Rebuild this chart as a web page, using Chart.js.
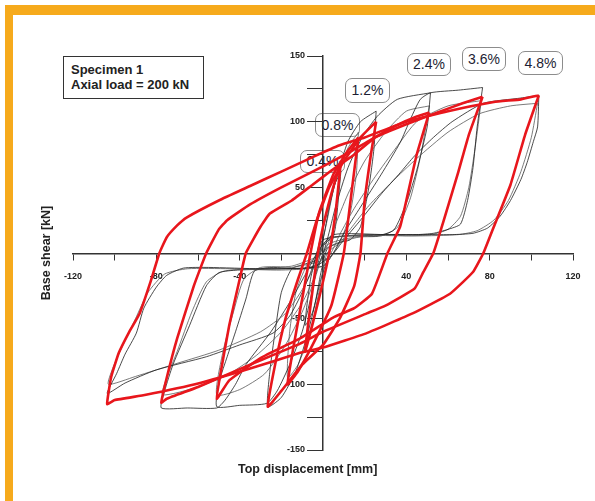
<!DOCTYPE html>
<html lang="en">
<head>
<meta charset="UTF-8">
<title>Specimen 1 hysteresis</title>
<script src="https://cdn.jsdelivr.net/npm/chart.js"></script>
<style>
    body { margin: 0; background: #fff; font-family: "Liberation Sans", Arial, sans-serif; }
    #wrap { position: relative; width: 595px; height: 501px; overflow: hidden; background: #fff; }
    .bar { position: absolute; background: #f6aa1c; }
    .drift {
        position: absolute; box-sizing: border-box; border: 1px solid #8c8c8c; border-radius: 7px;
        background: #fff; font-size: 14px; color: #1d1d33; text-align: center;
    }
    #specimen {
        position: absolute; left: 63px; top: 56px; width: 141px; height: 43px; box-sizing: border-box;
        border: 1px solid #333; background: #fff; padding: 5px 0 0 7px;
        font-size: 13px; font-weight: bold; line-height: 15px; color: #222;
    }
    .title { position: absolute; font-size: 12.5px; font-weight: bold; color: #222; white-space: nowrap; }
    #chart { position: absolute; left: 0; top: 0; }
</style>
</head>
<body>
<div id="wrap">
    <div class="bar" style="left:5px; top:5px; width:590px; height:10px;"></div>
    <div class="bar" style="left:5px; top:5px; width:8px; height:496px;"></div>

    <div class="drift" style="left:300px; top:150px; width:45px; height:23px; line-height:21px;">0.4%</div>
    <div class="drift" style="left:315px; top:113px; width:45px; height:24px; line-height:22px;">0.8%</div>
    <div class="drift" style="left:345px; top:78px; width:45px; height:25px; line-height:23px;">1.2%</div>
    <div class="drift" style="left:407px; top:53px; width:44px; height:23px; line-height:21px;">2.4%</div>
    <div class="drift" style="left:462px; top:47px; width:44px; height:24px; line-height:22px;">3.6%</div>
    <div class="drift" style="left:518px; top:51px; width:45px; height:24px; line-height:22px;">4.8%</div>

    <canvas id="chart" width="595" height="501"></canvas>

    <div id="specimen">Specimen 1<br>Axial load = 200 kN</div>
    <div class="title" style="left:238px; top:462px;">Top displacement [mm]</div>
    <div class="title" style="left:-6px; top:246px; transform: rotate(-90deg); transform-origin: 50% 50%; width:104px; text-align:center;">Base shear [kN]</div>
</div>

<script>
    // test curves (black) - displacement [mm] / base shear [kN]
    const test48aDisp = [103.6, 95, 77, 62, 53, 44, 37, 28, 18, 10, 4, -5, -30, -55, -67, -75, -80, -86, -89.6, -95, -99, -103.6, -95, -80, -56, -40, -24, -16, -10, -6, -2, 5, 30, 50, 62, 72, 79, 85, 90, 95, 98, 101, 103, 103.6];
    const test48aShear = [120, 118, 114, 100, 88, 74, 61, 45, 25, 10, -2, -11, -12, -11, -11.5, -17, -26, -42, -61, -77, -91.6, -107, -99, -89, -79, -70, -61, -48, -30, -15, 2, 14, 14, 14, 14, 15, 19, 28, 40, 56, 69, 85, 96, 120];
    const test48bDisp = [103, 90, 75, 60, 45, 33, 22, 14, 7, 0, -20, -45, -65, -76, -84, -90, -96, -101, -103, -90, -70, -50, -30, -18, -10, -4, 2, 20, 45, 65, 74, 82, 89, 95, 100, 103];
    const test48bShear = [114, 112, 106, 92, 72, 54, 36, 20, 5, -10, -13, -12, -12, -16, -30, -50, -70, -88, -100, -94, -84, -74, -60, -46, -28, -10, 10, 14, 13, 14, 17, 25, 40, 62, 88, 114];
    const test36aDisp = [76.6, 65, 51.6, 46.7, 42, 37, 28, 18, 10, 5, 0, -20, -41, -50, -56, -64, -72, -76, -77.6, -65, -51, -47, -42, -37, -25, -15, -8, -3, 0, 10, 30, 45, 53, 60, 66, 69.4, 72, 74, 76.6];
    const test36aShear = [126, 124, 122, 117, 102, 84, 60, 35, 15, 0, -10, -12, -13, -15, -25, -55, -85, -105, -118, -118, -118, -112, -100, -85, -60, -35, -15, 0, 10, 13, 14, 14, 15, 18, 22, 40, 65, 96, 126];
    const test36bDisp = [76, 60, 45, 35, 25, 15, 8, 2, -15, -35, -48, -56, -63, -70, -75, -77, -60, -45, -32, -20, -10, -4, 2, 20, 40, 52, 60, 66, 70, 73, 76];
    const test36bShear = [116, 112, 100, 80, 58, 34, 14, -4, -11, -12, -14, -22, -45, -75, -95, -108, -102, -92, -78, -60, -38, -18, 4, 13, 13, 14, 18, 28, 50, 80, 116];
    const test24aDisp = [51.6, 35.7, 26, 19, 12, 6, 2, -2, -10, -25, -33, -37, -42, -46, -49.6, -51, -40, -27, -22, -16, -10, -6, -3, 0, 5, 20, 26, 34, 40.5, 45, 50, 51.6];
    const test24aShear = [122, 117, 104, 88.5, 65, 35, 10, -8, -12, -11, -14, -35, -60, -79, -97, -117, -116, -114.5, -105, -85, -60, -35, -12, 5, 12, 13, 13, 17.5, 40, 63, 96, 122];
    const test24bDisp = [51, 40, 30, 20, 12, 5, 0, -15, -30, -38, -43, -48, -51, -40, -28, -18, -10, -4, 2, 15, 28, 36, 42, 47, 51];
    const test24bShear = [112, 108, 92, 70, 45, 18, 0, -10, -11, -20, -45, -75, -108, -104, -92, -70, -45, -20, 6, 12, 13, 20, 42, 75, 112];
    const test12Disp = [25.5, 18, 12, 7, 3, 0, -3, -10, -15, -20, -23, -25.5, -26.5, -20, -13, -8, -4, -1, 2, 8, 13, 18, 22, 24.5, 25.5];
    const test12Shear = [108, 100, 85, 60, 35, 10, -5, -9, -12, -30, -60, -90, -117, -110, -90, -65, -40, -15, 3, 8, 10, 20, 50, 80, 108];
    const test08Disp = [17, 12, 6, 2, -2, -8, -13, -16, -17, -12, -6, -2, 2, 8, 13, 16, 17];
    const test08Shear = [92, 80, 55, 25, 0, -10, -30, -60, -95, -85, -60, -30, 0, 8, 30, 60, 92];
    const test04Disp = [8.6, 5, 1, -3, -6, -8.6, -5, -1, 3, 6, 8.6];
    const test04Shear = [62, 50, 25, 0, -20, -55, -45, -20, 0, 20, 62];

    // model curves (red)
    const model48Disp = [103.6, 97, 90, 82, 77, 72, 61, 43, 21, 0, -11, -35, -59, -85, -100, -103.6, -101.7, -98, -93, -88, -83, -78.5, -75, -70, -65.5, -50, -35, -20, -5, 8, 20, 40, 60, 82, 95, 103.6];
    const model48Shear = [120, 90, 52, 20, 0, -14.5, -31, -46, -61, -72, -76, -88, -99, -108, -112, -115, -94.6, -76, -60, -46, -23, 0, 12, 21, 27, 40, 51, 62, 73, 82, 88, 100, 108, 115, 117, 120];
    const model36Disp = [76.6, 70, 65, 58, 53, 48, 44, 30, 21, 0, -11, -35, -60, -75, -77.6, -75, -70, -62, -56, -50, -46, -35, -20, 0, 13, 25, 40, 55, 67, 76.6];
    const model36Shear = [119, 90, 62, 25, 0, -15, -27, -40, -46, -60, -69, -85, -102, -111, -114, -95, -65, -25, 0, 18, 25, 37, 50, 66, 77, 88, 98, 107, 114, 119];
    const model24Disp = [51, 45, 40, 37, 31, 23.5, 15, 5, -11, -30, -45, -51, -49, -45, -40, -37, -30, -25.5, -15, -5, 3.4, 15, 25, 35, 45, 51];
    const model24Shear = [107, 75, 40, 20, 0, -31, -42, -49, -65, -80, -97, -111, -90, -55, -20, 0, 20, 30, 40, 52, 62, 75, 88, 97, 104, 107];
    const model12Disp = [25.5, 23, 20, 18, 15, 8, 0, -10, -20, -26.5, -23, -18, -12, -7.7, -3, 3, 10, 18, 25.5];
    const model12Shear = [100, 75, 40, 0, -25, -50, -70, -85, -105, -117, -85, -50, -20, 0, 25, 50, 70, 88, 100];
    const model08Disp = [17, 14, 10, 4, -5, -12, -17, -14, -10, -6, -2, 5, 12, 17];
    const model08Shear = [88, 50, 0, -40, -70, -90, -100, -70, -35, 0, 30, 60, 78, 88];
    const model04Disp = [8.6, 6, 3, -2, -8.6, -6, -3, 0, 4, 8.6];
    const model04Shear = [70, 30, 0, -35, -75, -40, -5, 20, 45, 70];

    function pts(xs, ys) {
        return xs.map((x, i) => ({x: x, y: ys[i]}));
    }

    const testLoops = [
        [test48aDisp, test48aShear], [test48bDisp, test48bShear],
        [test36aDisp, test36aShear], [test36bDisp, test36bShear],
        [test24aDisp, test24aShear], [test24bDisp, test24bShear],
        [test12Disp, test12Shear], [test08Disp, test08Shear], [test04Disp, test04Shear]
    ];
    const modelLoops = [
        [model48Disp, model48Shear], [model36Disp, model36Shear], [model24Disp, model24Shear],
        [model12Disp, model12Shear], [model08Disp, model08Shear], [model04Disp, model04Shear]
    ];

    const datasets = [];
    modelLoops.forEach(l => datasets.push({
        data: pts(l[0], l[1]), showLine: true, borderColor: '#e8161c', borderWidth: 2.6,
        pointRadius: 0, tension: 0.12, order: 0
    }));
    testLoops.forEach((l, i) => datasets.push({
        data: pts(l[0], l[1]), showLine: true,
        borderColor: i % 2 ? 'rgba(90,90,90,0.8)' : 'rgba(30,30,30,0.8)', borderWidth: 1,
        pointRadius: 0, tension: 0.2, order: 1
    }));

    const tickFont = {family: 'Liberation Sans', size: 9, weight: 'bold'};

    // both ranges are symmetric, so 'center' puts each axis on the zero line of the other
    new Chart(document.getElementById('chart').getContext('2d'), {
        type: 'scatter',
        data: {datasets: datasets},
        options: {
            responsive: false,
            animation: false,
            events: [],
            layout: {padding: {left: 73, right: 22, top: 56, bottom: 51}},
            plugins: {legend: {display: false}, tooltip: {enabled: false}},
            scales: {
                x: {
                    type: 'linear', min: -120, max: 120, position: 'center',
                    border: {display: true, color: '#333', width: 1.5},
                    grid: {drawOnChartArea: false, drawTicks: true, tickLength: 6, color: '#333'},
                    ticks: {
                        stepSize: 20, autoSkip: false, maxRotation: 0, padding: 12,
                        font: tickFont, color: '#222',
                        callback: v => (v % 40 === 0 && v !== 0) ? String(v) : ''
                    }
                },
                y: {
                    type: 'linear', min: -150, max: 150, position: 'center',
                    border: {display: true, color: '#333', width: 1.5},
                    grid: {drawOnChartArea: false, drawTicks: true, tickLength: 15, color: '#333'},
                    ticks: {
                        stepSize: 25, autoSkip: false, padding: 3,
                        font: tickFont, color: '#222',
                        callback: v => (v % 50 === 0 && v !== 0) ? String(v) : ''
                    }
                }
            }
        }
    });
</script>
</body>
</html>
